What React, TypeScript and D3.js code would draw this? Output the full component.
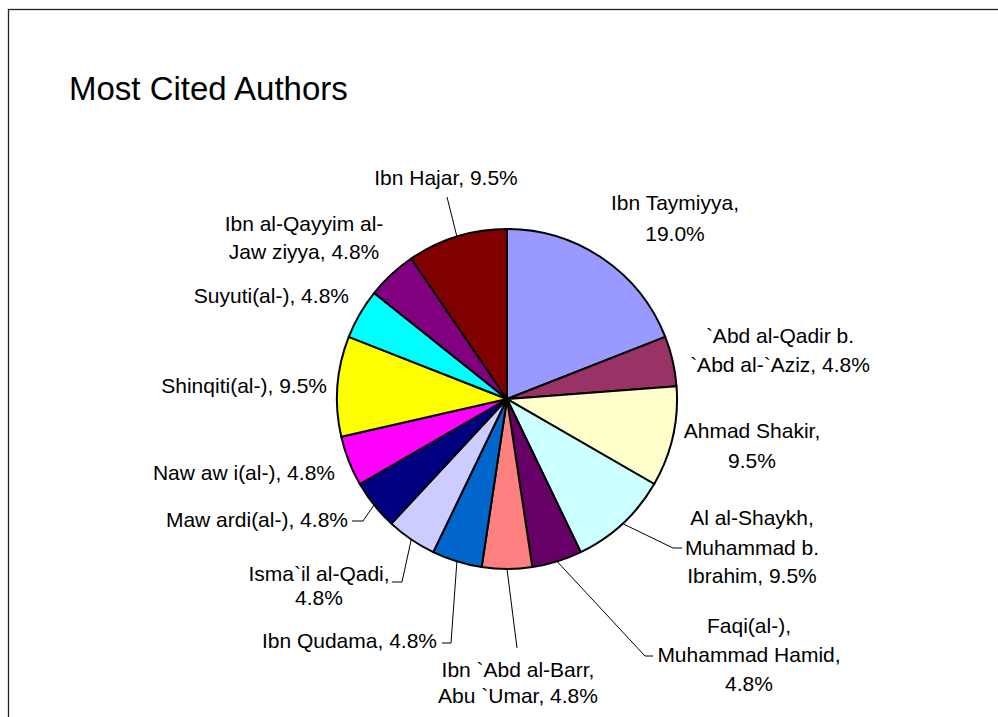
import { useEffect, useRef } from 'react'
import * as d3 from 'd3'

// slices, clockwise from 12 o'clock
const authors = [
  'Ibn Taymiyya',
  '`Abd al-Qadir b. `Abd al-`Aziz',
  'Ahmad Shakir',
  'Al al-Shaykh, Muhammad b. Ibrahim',
  'Faqi(al-), Muhammad Hamid',
  'Ibn `Abd al-Barr, Abu `Umar',
  'Ibn Qudama',
  'Isma`il al-Qadi',
  'Maw ardi(al-)',
  'Naw aw i(al-)',
  'Shinqiti(al-)',
  'Suyuti(al-)',
  'Ibn al-Qayyim al-Jaw ziyya',
  'Ibn Hajar',
]
const citations = [4, 1, 2, 2, 1, 1, 1, 1, 1, 1, 2, 1, 1, 2]
const colors = [
  '#9999FF', '#993366', '#FFFFCC', '#CCFFFF', '#660066', '#FF8080', '#0066CC',
  '#CCCCFF', '#000080', '#FF00FF', '#FFFF00', '#00FFFF', '#800080', '#800000',
]
// how each label wraps; {p} is the percentage
const labelLines = [
  ['Ibn Taymiyya,', '{p}'],
  ['`Abd al-Qadir b.', '`Abd al-`Aziz, {p}'],
  ['Ahmad Shakir,', '{p}'],
  ['Al al-Shaykh,', 'Muhammad b.', 'Ibrahim, {p}'],
  ['Faqi(al-),', 'Muhammad Hamid,', '{p}'],
  ['Ibn `Abd al-Barr,', 'Abu `Umar, {p}'],
  ['Ibn Qudama, {p}'],
  ['Isma`il al-Qadi,', '{p}'],
  ['Maw ardi(al-), {p}'],
  ['Naw aw i(al-), {p}'],
  ['Shinqiti(al-), {p}'],
  ['Suyuti(al-), {p}'],
  ['Ibn al-Qayyim al-', 'Jaw ziyya, {p}'],
  ['Ibn Hajar, {p}'],
]
const title = 'Most Cited Authors'

export default function App() {
  const ref = useRef<SVGSVGElement>(null)
  const W = 998
  const H = 717
  const cx = 507
  const cy = 399
  const r = 170

  useEffect(() => {
    const svg = d3.select(ref.current)
    svg.selectAll('*').remove()
    const font = '"Liberation Sans", Arial, sans-serif'

    svg.append('rect').attr('x', 8.5).attr('y', 9.5).attr('width', W + 20).attr('height', H + 20)
      .attr('fill', '#fff').attr('stroke', '#222').attr('stroke-width', 1.3)

    svg.append('text').attr('x', 69).attr('y', 100).attr('font-family', font)
      .attr('font-size', 33).attr('fill', '#000').text(title)

    const total = d3.sum(citations)
    const fmt = d3.format('.1f')
    const data = authors.map((a, i) => ({ name: a, value: citations[i], i }))
    const arcs = d3.pie<any>().sort(null).value((d) => d.value)(data)
    const arc = d3.arc<any>().innerRadius(0).outerRadius(r)
    const edge = d3.arc<any>().innerRadius(r).outerRadius(r)

    const g = svg.append('g').attr('transform', `translate(${cx},${cy})`)
    g.selectAll('path').data(arcs).enter().append('path')
      .attr('d', arc)
      .attr('fill', (d) => colors[d.data.i])
      .attr('stroke', '#000').attr('stroke-width', 2).attr('stroke-linejoin', 'round')

    // label placement (absolute page coords): anchor, x, baselines, leader points
    const place: any[] = [
      { a: 'middle', x: 675, y: [210, 241] },
      { a: 'middle', x: 780, y: [343, 372] },
      { a: 'middle', x: 752, y: [438, 468] },
      { a: 'middle', x: 752, y: [525, 555, 583], lead: [[673, 548], [682, 548]] },
      { a: 'middle', x: 749, y: [633, 662, 691], lead: [[645, 656], [653, 656]] },
      { a: 'middle', x: 518, y: [677, 703], lead: [[517, 648]] },
      { a: 'end', x: 437, y: [648], lead: [[451, 643], [442, 643]] },
      { a: 'middle', x: 319, y: [581, 605], lead: [[402, 582], [392, 582]] },
      { a: 'end', x: 348, y: [527], lead: [[363, 521], [352, 521]] },
      { a: 'end', x: 335, y: [480] },
      { a: 'end', x: 327, y: [393] },
      { a: 'end', x: 349, y: [303] },
      { a: 'middle', x: 304, y: [231, 259] },
      { a: 'middle', x: 446, y: [185], lead: [[447, 197]] },
    ]

    arcs.forEach((d, k) => {
      const p = place[k]
      const pct = fmt((d.data.value / total) * 100) + '%'
      if (p.lead) {
        const [ex, ey] = edge.centroid(d)
        const pts = [[cx + ex, cy + ey], ...p.lead]
        svg.append('path').attr('d', d3.line()(pts as any))
          .attr('fill', 'none').attr('stroke', '#000').attr('stroke-width', 1)
      }
      const t = svg.append('text').attr('font-family', font).attr('font-size', 21)
        .attr('fill', '#000').attr('text-anchor', p.a)
      labelLines[k].forEach((ln, j) => {
        t.append('tspan').attr('x', p.x).attr('y', p.y[j]).text(ln.replace('{p}', pct))
      })
    })
  }, [])

  return (
    <svg ref={ref} width={W} height={H}
      style={{ position: 'absolute', left: 0, top: 0, background: '#fff' }} />
  )
}
